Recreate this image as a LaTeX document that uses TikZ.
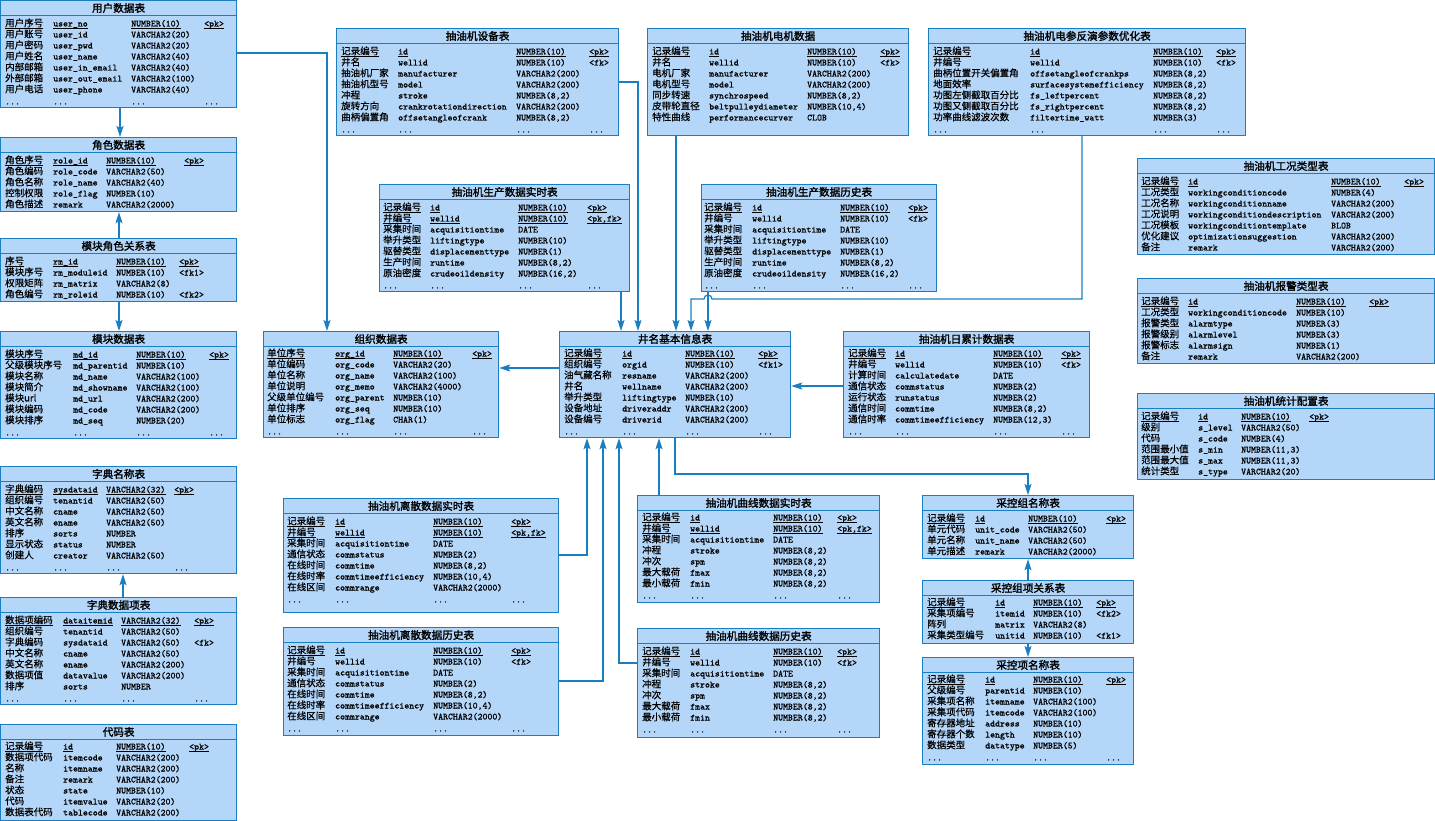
\documentclass[tikz,border=0pt]{standalone}
\usepackage{fontspec}
\usetikzlibrary{arrows.meta}
\newfontfamily\zh{Noto Sans CJK SC}[FakeBold=0.5]
\newfontfamily\zhb{Noto Sans CJK SC}[FakeBold=1.6]
\newfontfamily\mono{Latin Modern Mono}[FakeBold=0.5]
\definecolor{fillc}{HTML}{B4D6F8}
\definecolor{bordc}{HTML}{1A7EC2}
\newcounter{fc}
% column x positions and running row y for the current table
\newcommand\cols[4]{\xdef\ca{#1}\xdef\cb{#2}\xdef\cc{#3}\xdef\cd{#4}}
\newcommand\rowsfrom[1]{\xdef\ry{#1}}
\newcommand\advrow[1]{\pgfmathsetmacro\nexty{\ry+#1}\xdef\ry{\nexty}}
\newcommand\cells[4]{%
  \stepcounter{fc}\xdef\fn{f\arabic{fc}}%
  \node[cn] (\fn a) at (\ca,\ry+3.5) {#1};
  \node[en] (\fn b) at (\cb,\ry+3.5) {#2};
  \node[en] (\fn c) at (\cc,\ry+3.5) {#3};
  \node[en] (\fn d) at (\cd,\ry+3.5) {#4};
}
\newcommand\fld[4]{\cells{#1}{#2}{#3}{#4}\advrow{11}}
\newcommand\ufld[4]{\cells{#1}{#2}{#3}{#4}%
  \foreach \k in {a,b,c,d}{\draw[uline] ([yshift=-2pt]\fn\k.base west) -- ([yshift=-2pt]\fn\k.base east);}%
  \advrow{11}}
\newcommand\dotsrow{\advrow{1}%
  \stepcounter{fc}\xdef\fn{f\arabic{fc}}%
  \node[en] (\fn a) at (\ca,\ry+3.5) {...};
  \node[en] (\fn b) at (\cb,\ry+3.5) {...};
  \node[en] (\fn c) at (\cc,\ry+3.5) {...};
  \node[en] (\fn d) at (\cd,\ry+3.5) {...};
}
% table frame: name, x, y, width, height, title
\newcommand\tbl[6]{%
  \node[tblbox, minimum width=#4pt, minimum height=#5pt] (#1) at (#2,#3) {};
  \draw[sepline] ([yshift=-15.5pt]#1.north west) -- ([yshift=-15.5pt]#1.north east);
  \node[tbltitle] (#1-title) at ([yshift=-8pt]#1.north) {#6};
}
\begin{document}
\begin{tikzpicture}[x=1pt,y=-1pt,
  tblbox/.style={draw=bordc, fill=fillc, line width=1.2pt, inner sep=0pt, anchor=north west},
  sepline/.style={draw=bordc, line width=1.1pt},
  tbltitle/.style={font=\zhb\fontsize{10.6}{12}\selectfont, inner sep=0pt},
  cn/.style={font=\zh\fontsize{9.5}{10}\selectfont, anchor=base west, inner sep=0pt},
  en/.style={font=\mono\fontsize{9.4}{10}\selectfont, anchor=base west, inner sep=0pt},
  uline/.style={draw=black, line width=0.7pt},
  conn/.style={draw=bordc, line width=1.2pt, -{Stealth[length=11pt,width=7pt,inset=2pt]}}]
\useasboundingbox (0,0) rectangle (1435,821);

% ---------------- left column ----------------
\tbl{user}{0}{0}{236}{107}{用户数据表}
\cols{5}{53}{131}{204}\rowsfrom{23}
\ufld{用户序号}{user\_no}{NUMBER(10)}{<pk>}
\fld{用户账号}{user\_id}{VARCHAR2(20)}{}
\fld{用户密码}{user\_pwd}{VARCHAR2(20)}{}
\fld{用户姓名}{user\_name}{VARCHAR2(40)}{}
\fld{内部邮箱}{user\_in\_email}{VARCHAR2(40)}{}
\fld{外部邮箱}{user\_out\_email}{VARCHAR2(100)}{}
\fld{用户电话}{user\_phone}{VARCHAR2(40)}{}
\dotsrow

\tbl{role}{0}{137}{236}{74}{角色数据表}
\cols{5}{53}{106}{184}\rowsfrom{160}
\ufld{角色序号}{role\_id}{NUMBER(10)}{<pk>}
\fld{角色编码}{role\_code}{VARCHAR2(50)}{}
\fld{角色名称}{role\_name}{VARCHAR2(40)}{}
\fld{控制权限}{role\_flag}{NUMBER(10)}{}
\fld{角色描述}{remark}{VARCHAR2(2000)}{}

\tbl{rolemod}{0}{238}{236}{63}{模块角色关系表}
\cols{5}{53}{116}{179}\rowsfrom{261}
\ufld{序号}{rm\_id}{NUMBER(10)}{<pk>}
\fld{模块序号}{rm\_moduleid}{NUMBER(10)}{<fk1>}
\fld{权限矩阵}{rm\_matrix}{VARCHAR2(8)}{}
\fld{角色编号}{rm\_roleid}{NUMBER(10)}{<fk2>}

\tbl{module}{0}{331}{236}{107}{模块数据表}
\cols{5}{73}{136}{209}\rowsfrom{354}
\ufld{模块序号}{md\_id}{NUMBER(10)}{<pk>}
\fld{父级模块序号}{md\_parentid}{NUMBER(10)}{}
\fld{模块名称}{md\_name}{VARCHAR2(100)}{}
\fld{模块简介}{md\_showname}{VARCHAR2(100)}{}
\fld{模块url}{md\_url}{VARCHAR2(200)}{}
\fld{模块编码}{md\_code}{VARCHAR2(200)}{}
\fld{模块排序}{md\_seq}{NUMBER(20)}{}
\dotsrow

\tbl{dictname}{0}{466}{236}{107}{字典名称表}
\cols{5}{53}{106}{174}\rowsfrom{489}
\ufld{字典编码}{sysdataid}{VARCHAR2(32)}{<pk>}
\fld{组织编号}{tenantid}{VARCHAR2(50)}{}
\fld{中文名称}{cname}{VARCHAR2(50)}{}
\fld{英文名称}{ename}{VARCHAR2(50)}{}
\fld{排序}{sorts}{NUMBER}{}
\fld{显示状态}{status}{NUMBER}{}
\fld{创建人}{creator}{VARCHAR2(50)}{}
\dotsrow

\tbl{dictitem}{0}{597}{236}{107}{字典数据项表}
\cols{5}{63}{121}{194}\rowsfrom{620}
\ufld{数据项编码}{dataitemid}{VARCHAR2(32)}{<pk>}
\fld{组织编号}{tenantid}{VARCHAR2(50)}{}
\fld{字典编码}{sysdataid}{VARCHAR2(50)}{<fk>}
\fld{中文名称}{cname}{VARCHAR2(50)}{}
\fld{英文名称}{ename}{VARCHAR2(200)}{}
\fld{数据项值}{datavalue}{VARCHAR2(200)}{}
\fld{排序}{sorts}{NUMBER}{}
\dotsrow

\tbl{code}{0}{724}{236}{96}{代码表}
\cols{5}{63}{116}{189}\rowsfrom{746}
\ufld{记录编号}{id}{NUMBER(10)}{<pk>}
\fld{数据项代码}{itemcode}{VARCHAR2(200)}{}
\fld{名称}{itemname}{VARCHAR2(200)}{}
\fld{备注}{remark}{VARCHAR2(200)}{}
\fld{状态}{state}{NUMBER(10)}{}
\fld{代码}{itemvalue}{VARCHAR2(20)}{}
\fld{数据表代码}{tablecode}{VARCHAR2(200)}{}

% ---------------- top row ----------------
\tbl{device}{336}{28}{282}{107}{抽油机设备表}
\cols{341}{398}{516}{589}\rowsfrom{51}
\ufld{记录编号}{id}{NUMBER(10)}{<pk>}
\fld{井名}{wellid}{NUMBER(10)}{<fk>}
\fld{抽油机厂家}{manufacturer}{VARCHAR2(200)}{}
\fld{抽油机型号}{model}{VARCHAR2(200)}{}
\fld{冲程}{stroke}{NUMBER(8,2)}{}
\fld{旋转方向}{crankrotationdirection}{VARCHAR2(200)}{}
\fld{曲柄偏置角}{offsetangleofcrank}{NUMBER(8,2)}{}
\dotsrow

\tbl{motor}{647}{28}{261}{107}{抽油机电机数据}
\cols{652}{709}{807}{880}\rowsfrom{51}
\ufld{记录编号}{id}{NUMBER(10)}{<pk>}
\fld{井名}{wellid}{NUMBER(10)}{<fk>}
\fld{电机厂家}{manufacturer}{VARCHAR2(200)}{}
\fld{电机型号}{model}{VARCHAR2(200)}{}
\fld{同步转速}{synchrospeed}{NUMBER(8,2)}{}
\fld{皮带轮直径}{beltpulleydiameter}{NUMBER(10,4)}{}
\fld{特性曲线}{performancecurver}{CLOB}{}

\tbl{optim}{928}{28}{317}{107}{抽油机电参反演参数优化表}
\cols{933}{1030}{1153}{1216}\rowsfrom{51}
\ufld{记录编号}{id}{NUMBER(10)}{<pk>}
\fld{井编号}{wellid}{NUMBER(10)}{<fk>}
\fld{曲柄位置开关偏置角}{offsetangleofcrankps}{NUMBER(8,2)}{}
\fld{地面效率}{surfacesystemefficiency}{NUMBER(8,2)}{}
\fld{功图左侧截取百分比}{fs\_leftpercent}{NUMBER(8,2)}{}
\fld{功图又侧截取百分比}{fs\_rightpercent}{NUMBER(8,2)}{}
\fld{功率曲线滤波次数}{filtertime\_watt}{NUMBER(3)}{}
\dotsrow

% ---------------- right column ----------------
\tbl{workcond}{1137}{158}{297}{96}{抽油机工况类型表}
\cols{1141}{1188}{1331}{1404}\rowsfrom{181}
\ufld{记录编号}{id}{NUMBER(10)}{<pk>}
\fld{工况类型}{workingconditioncode}{NUMBER(4)}{}
\fld{工况名称}{workingconditionname}{VARCHAR2(200)}{}
\fld{工况说明}{workingconditiondescription}{VARCHAR2(200)}{}
\fld{工况模板}{workingconditiontemplate}{BLOB}{}
\fld{优化建议}{optimizationsuggestion}{VARCHAR2(200)}{}
\fld{备注}{remark}{VARCHAR2(200)}{}

\tbl{alarm}{1137}{278}{297}{85}{抽油机报警类型表}
\cols{1141}{1188}{1296}{1369}\rowsfrom{301}
\ufld{记录编号}{id}{NUMBER(10)}{<pk>}
\fld{工况类型}{workingconditioncode}{NUMBER(10)}{}
\fld{报警类型}{alarmtype}{NUMBER(3)}{}
\fld{报警级别}{alarmlevel}{NUMBER(3)}{}
\fld{报警标志}{alarmsign}{NUMBER(1)}{}
\fld{备注}{remark}{VARCHAR2(200)}{}

\tbl{stat}{1137}{393}{297}{86}{抽油机统计配置表}
\cols{1141}{1198}{1241}{1309}\rowsfrom{416}
\ufld{记录编号}{id}{NUMBER(10)}{<pk>}
\fld{级别}{s\_level}{VARCHAR2(50)}{}
\fld{代码}{s\_code}{NUMBER(4)}{}
\fld{范围最小值}{s\_min}{NUMBER(11,3)}{}
\fld{范围最大值}{s\_max}{NUMBER(11,3)}{}
\fld{统计类型}{s\_type}{VARCHAR2(20)}{}

% ---------------- production tables ----------------
\tbl{prodrt}{379}{184}{250}{107}{抽油机生产数据实时表}
\cols{383}{430}{518}{587}\rowsfrom{207}
\ufld{记录编号}{id}{NUMBER(10)}{<pk>}
\ufld{井编号}{wellid}{NUMBER(10)}{<pk,fk>}
\fld{采集时间}{acquisitiontime}{DATE}{}
\fld{举升类型}{liftingtype}{NUMBER(10)}{}
\fld{驱替类型}{displacementtype}{NUMBER(1)}{}
\fld{生产时间}{runtime}{NUMBER(8,2)}{}
\fld{原油密度}{crudeoildensity}{NUMBER(16,2)}{}
\dotsrow

\tbl{prodhist}{701}{184}{235}{107}{抽油机生产数据历史表}
\cols{704}{752}{840}{908}\rowsfrom{207}
\ufld{记录编号}{id}{NUMBER(10)}{<pk>}
\fld{井编号}{wellid}{NUMBER(10)}{<fk>}
\fld{采集时间}{acquisitiontime}{DATE}{}
\fld{举升类型}{liftingtype}{NUMBER(10)}{}
\fld{驱替类型}{displacementtype}{NUMBER(1)}{}
\fld{生产时间}{runtime}{NUMBER(8,2)}{}
\fld{原油密度}{crudeoildensity}{NUMBER(16,2)}{}
\dotsrow

% ---------------- middle row ----------------
\tbl{org}{263}{331}{235}{106}{组织数据表}
\cols{267}{335}{393}{472}\rowsfrom{353}
\ufld{单位序号}{org\_id}{NUMBER(10)}{<pk>}
\fld{单位编码}{org\_code}{VARCHAR2(20)}{}
\fld{单位名称}{org\_name}{VARCHAR2(100)}{}
\fld{单位说明}{org\_memo}{VARCHAR2(4000)}{}
\fld{父级单位编号}{org\_parent}{NUMBER(10)}{}
\fld{单位排序}{org\_seq}{NUMBER(10)}{}
\fld{单位标志}{org\_flag}{CHAR(1)}{}
\dotsrow

\tbl{well}{559}{331}{231}{106}{井名基本信息表}
\cols{564}{622}{685}{758}\rowsfrom{353}
\ufld{记录编号}{id}{NUMBER(10)}{<pk>}
\fld{组织编号}{orgid}{NUMBER(10)}{<fk1>}
\fld{油气藏名称}{resname}{VARCHAR2(200)}{}
\fld{井名}{wellname}{VARCHAR2(200)}{}
\fld{举升类型}{liftingtype}{NUMBER(10)}{}
\fld{设备地址}{driveraddr}{VARCHAR2(200)}{}
\fld{设备编号}{driverid}{VARCHAR2(200)}{}
\dotsrow

\tbl{daily}{843}{331}{246}{106}{抽油机日累计数据表}
\cols{848}{895}{993}{1061}\rowsfrom{353}
\ufld{记录编号}{id}{NUMBER(10)}{<pk>}
\fld{井编号}{wellid}{NUMBER(10)}{<fk>}
\fld{计算时间}{calculatedate}{DATE}{}
\fld{通信状态}{commstatus}{NUMBER(2)}{}
\fld{运行状态}{runstatus}{NUMBER(2)}{}
\fld{通信时间}{commtime}{NUMBER(8,2)}{}
\fld{通信时率}{commtimeefficiency}{NUMBER(12,3)}{}
\dotsrow

% ---------------- lower tables ----------------
\tbl{discrt}{283}{498}{275}{114}{抽油机离散数据实时表}
\cols{287}{335}{433}{511}\rowsfrom{521}
\ufld{记录编号}{id}{NUMBER(10)}{<pk>}
\ufld{井编号}{wellid}{NUMBER(10)}{<pk,fk>}
\fld{采集时间}{acquisitiontime}{DATE}{}
\fld{通信状态}{commstatus}{NUMBER(2)}{}
\fld{在线时间}{commtime}{NUMBER(8,2)}{}
\fld{在线时率}{commtimeefficiency}{NUMBER(10,4)}{}
\fld{在线区间}{commrange}{VARCHAR2(2000)}{}
\dotsrow

\tbl{dischist}{283}{627}{275}{108}{抽油机离散数据历史表}
\cols{287}{335}{433}{511}\rowsfrom{650}
\ufld{记录编号}{id}{NUMBER(10)}{<pk>}
\fld{井编号}{wellid}{NUMBER(10)}{<fk>}
\fld{采集时间}{acquisitiontime}{DATE}{}
\fld{通信状态}{commstatus}{NUMBER(2)}{}
\fld{在线时间}{commtime}{NUMBER(8,2)}{}
\fld{在线时率}{commtimeefficiency}{NUMBER(10,4)}{}
\fld{在线区间}{commrange}{VARCHAR2(2000)}{}
\dotsrow

\tbl{curvrt}{637}{495}{242}{107}{抽油机曲线数据实时表}
\cols{642}{690}{773}{837}\rowsfrom{517}
\ufld{记录编号}{id}{NUMBER(10)}{<pk>}
\ufld{井编号}{wellid}{NUMBER(10)}{<pk,fk>}
\fld{采集时间}{acquisitiontime}{DATE}{}
\fld{冲程}{stroke}{NUMBER(8,2)}{}
\fld{冲次}{spm}{NUMBER(8,2)}{}
\fld{最大载荷}{fmax}{NUMBER(8,2)}{}
\fld{最小载荷}{fmin}{NUMBER(8,2)}{}
\dotsrow

\tbl{curvhist}{637}{628}{242}{109}{抽油机曲线数据历史表}
\cols{642}{690}{773}{837}\rowsfrom{651}
\ufld{记录编号}{id}{NUMBER(10)}{<pk>}
\fld{井编号}{wellid}{NUMBER(10)}{<fk>}
\fld{采集时间}{acquisitiontime}{DATE}{}
\fld{冲程}{stroke}{NUMBER(8,2)}{}
\fld{冲次}{spm}{NUMBER(8,2)}{}
\fld{最大载荷}{fmax}{NUMBER(8,2)}{}
\fld{最小载荷}{fmin}{NUMBER(8,2)}{}
\dotsrow

\tbl{unit}{922}{495}{211}{63}{采控组名称表}
\cols{927}{975}{1028}{1106}\rowsfrom{518}
\ufld{记录编号}{id}{NUMBER(10)}{<pk>}
\fld{单元代码}{unit\_code}{VARCHAR2(50)}{}
\fld{单元名称}{unit\_name}{VARCHAR2(50)}{}
\fld{单元描述}{remark}{VARCHAR2(2000)}{}

\tbl{unititem}{922}{580}{211}{63}{采控组项关系表}
\cols{927}{995}{1033}{1096}\rowsfrom{602}
\ufld{记录编号}{id}{NUMBER(10)}{<pk>}
\fld{采集项编号}{itemid}{NUMBER(10)}{<fk2>}
\fld{阵列}{matrix}{VARCHAR2(8)}{}
\fld{采集类型编号}{unitid}{NUMBER(10)}{<fk1>}

\tbl{item}{922}{657}{211}{107}{采控项名称表}
\cols{927}{985}{1033}{1106}\rowsfrom{679}
\ufld{记录编号}{id}{NUMBER(10)}{<pk>}
\fld{父级编号}{parentid}{NUMBER(10)}{}
\fld{采集项名称}{itemname}{VARCHAR2(100)}{}
\fld{采集项代码}{itemcode}{VARCHAR2(100)}{}
\fld{寄存器地址}{address}{NUMBER(10)}{}
\fld{寄存器个数}{length}{NUMBER(10)}{}
\fld{数据类型}{datatype}{NUMBER(5)}{}
\dotsrow

% ---------------- references ----------------
\draw[conn] (user.south -| 120,0) -- (role.north -| 120,0);
\draw[conn] (rolemod.north -| 119,0) -- (role.south -| 119,0);
\draw[conn] (rolemod.south -| 119,0) -- (module.north -| 119,0);
\draw[conn] (dictitem.north -| 123,0) -- (dictname.south -| 123,0);
\draw[conn] (user.east |- 0,53) -| (org.north -| 327,0);
\draw[conn] (device.east |- 0,82) -| (well.north -| 638,0);
\draw[conn] (prodrt.south -| 621,0) -- (well.north -| 621,0);
\draw[conn] (motor.south -| 676,0) -- (well.north -| 676,0);
\draw[conn] (optim.south -| 1082,0) |- (712,299)
  arc[start angle=0, end angle=180, radius=4pt] -- (691,299) -- (well.north -| 691,0);
\draw[conn] (prodhist.south -| 708,0) -- (well.north -| 708,0);
\draw[conn] (daily.west |- 0,386) -- (well.east |- 0,386);
\draw[conn] (well.west |- 0,368) -- (org.east |- 0,368);
\draw[conn] (discrt.east |- 0,555) -| (well.south -| 587,0);
\draw[conn] (dischist.east |- 0,681) -| (well.south -| 603,0);
\draw[conn] (curvhist.west |- 0,663) -| (well.south -| 619,0);
\draw[conn] (curvrt.north -| 659,0) -- (well.south -| 659,0);
\draw[conn] (well.south -| 675,0) |- (1028,474) -- (unit.north -| 1028,0);
\draw[conn] (unititem.north -| 1028,0) -- (unit.south -| 1028,0);
\draw[conn] (unititem.south -| 1028,0) -- (item.north -| 1028,0);
\end{tikzpicture}
\end{document}
